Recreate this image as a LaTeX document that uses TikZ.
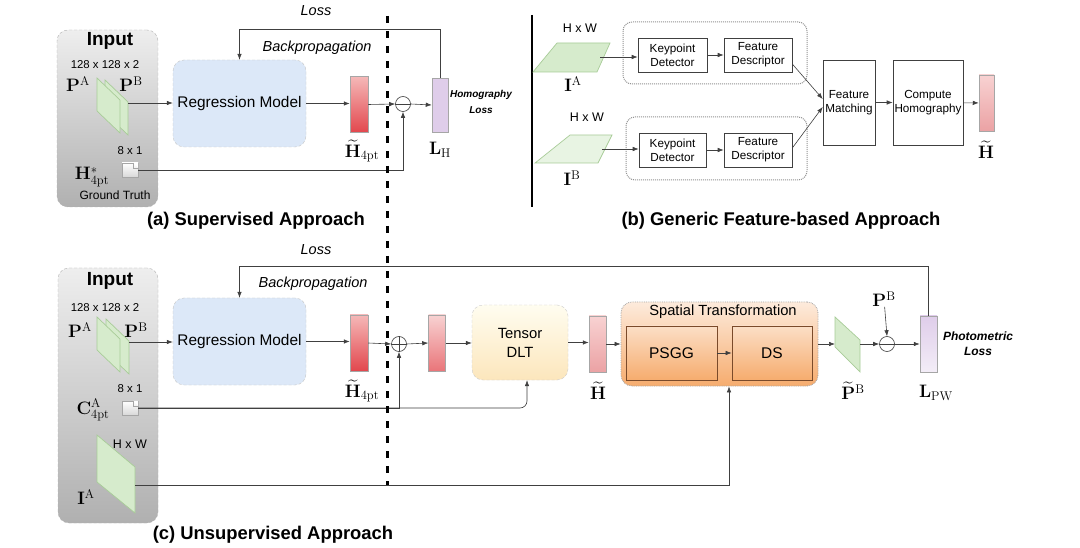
\RequirePackage{fix-cm}
\documentclass[tikz,border=0pt]{standalone}
\usepackage{amsmath}
\usepackage[no-math]{fontspec}
\setmainfont{Liberation Sans}
\usetikzlibrary{arrows.meta}

\definecolor{ingray}{HTML}{EEEEEE}
\definecolor{ingrayd}{HTML}{B0B0B0}
\definecolor{regblue}{HTML}{DCE8F8}
\definecolor{sheetgreen}{HTML}{D6EBCC}
\definecolor{sheetedge}{HTML}{A8CC98}
\definecolor{redtop}{HTML}{F5B8B8}
\definecolor{redbot}{HTML}{E2474D}
\definecolor{pinktop}{HTML}{F8D2D2}
\definecolor{pinkbot}{HTML}{EBA2A4}
\definecolor{lavtop}{HTML}{DFCDEA}
\definecolor{lavbot}{HTML}{F3EDF7}
\definecolor{yeltop}{HTML}{FFFDF0}
\definecolor{yelbot}{HTML}{FCE6BC}
\definecolor{orgtop}{HTML}{FDEBDC}
\definecolor{orgbot}{HTML}{F6AC6E}
\definecolor{brownedge}{HTML}{7A4A2A}

\tikzset{
  arr/.style={-{Latex[length=6pt,width=4.5pt]}, black!75, line width=0.6pt},
  ln/.style={black!75, line width=0.6pt},
  lbl/.style={font=\fontsize{11.4}{13}\selectfont, inner sep=0pt},
  hw/.style={font=\fontsize{12.5}{14}\selectfont, inner sep=0pt},
  mlbl/.style={font=\fontsize{18}{20}\selectfont, inner sep=0pt},
  captxt/.style={font=\bfseries\fontsize{18.4}{21}\selectfont, inner sep=0pt},
  intitle/.style={font=\bfseries\fontsize{19}{22}\selectfont, inner sep=0pt},
  inbox/.style={draw=gray!60, densely dashed, rounded corners=11pt, top color=ingray, bottom color=ingrayd},
  regbox/.style={draw=gray!45, densely dashed, rounded corners=11pt, fill=regblue,
    font=\fontsize{15.4}{18}\selectfont, minimum width=133pt, minimum height=87pt},
  bar/.style={draw=gray!70, line width=0.5pt, minimum width=17pt, minimum height=56pt, inner sep=0pt},
  sheet/.style={fill=sheetgreen, draw=sheetedge, line width=0.7pt},
  opc/.style={circle, draw=black!75, line width=0.6pt, minimum size=15pt, inner sep=0pt, fill=white},
  doc/.style={draw=gray!70, top color=white, bottom color=gray!30, minimum width=16pt, minimum height=14pt, inner sep=0pt},
  blk/.style={draw=black!75, line width=0.6pt, align=center, font=\fontsize{11.7}{14}\selectfont, inner sep=0pt},
  grp/.style={draw=gray!85, densely dotted, line width=1pt, rounded corners=9pt},
  bp/.style={font=\itshape\fontsize{14.5}{17}\selectfont, inner sep=0pt},
  lossnote/.style={font=\bfseries\itshape\fontsize{10}{16}\selectfont, align=center, inner sep=0pt},
  tdltbox/.style={draw=gray!40, densely dashed, rounded corners=11pt, top color=yeltop, bottom color=yelbot,
    align=center, font=\fontsize{14.8}{19}\selectfont, minimum width=96pt, minimum height=75pt},
  stbox/.style={draw=gray!70, densely dotted, line width=0.8pt, rounded corners=11pt, top color=orgtop, bottom color=orgbot,
    minimum width=197pt, minimum height=84pt},
  opblk/.style={draw=brownedge, line width=0.8pt, top color=orgtop!80!orgbot, bottom color=orgbot,
    font=\fontsize{15.5}{18}\selectfont, minimum height=54pt, inner sep=0pt},
}

\begin{document}
\begin{tikzpicture}[x=1pt,y=-1pt]
    \useasboundingbox[fill=white] (0,0) rectangle (1080,548);

    % ---------------- (a) Supervised approach ----------------
    % Input panel
    \node[inbox, minimum width=101pt, minimum height=177pt] (inA) at (107.5,118.5) {};
    \node[intitle] (inAt) at (110,41) {Input};
    \node[lbl] (szA) at (105,65) {128 x 128 x 2};
    \node[mlbl] (paA) at (78,84) {$\mathbf{P}^{\mathrm{A}}$};
    \node[mlbl] (pbA) at (131,84) {$\mathbf{P}^{\mathrm{B}}$};
    \filldraw[sheet] (105,80) -- ++(23,22) -- ++(0,33) -- ++(-23,-22) -- cycle;
    \filldraw[sheet] (97,78) -- ++(23,22) -- ++(0,33) -- ++(-23,-22) -- cycle;
    \coordinate (pA) at (128,103);
    \node[lbl] (gsA) at (130,151) {8 x 1};
    \node[mlbl] (hsA) at (92,177) {$\mathbf{H}^{*}_{\mathrm{4pt}}$};
    \node[doc] (gtA) at (130,170) {};
    \fill[white] ([xshift=-5pt]gtA.north east) -- (gtA.north east) -- ([yshift=-5pt]gtA.north east) -- cycle;
    \draw[gray!70] ([xshift=-5pt]gtA.north east) |- ([yshift=-5pt]gtA.north east);
    \node[lbl, font=\fontsize{12}{14}\selectfont] (gtlA) at (115,195) {Ground Truth};

    % Network and loss
    \node[regbox] (regA) at (239.5,103.5) {Regression Model};
    \node[bar, minimum width=18pt, top color=redtop, bottom color=redbot] (hA) at (359,104.5) {};
    \node[mlbl] (hAl) at (362,151) {$\widetilde{\mathbf{H}}_{\mathrm{4pt}}$};
    \node[opc] (subA) at (403,104) {};
    \node[bar, minimum width=16pt, minimum height=54pt, fill=lavtop] (lhA) at (440,105) {};
    \node[mlbl] (lhAl) at (440,150) {$\mathbf{L}_{\mathrm{H}}$};
    \node[lossnote] (hlA) at (481,102) {Homography\\Loss};
    \node[bp] (lossA) at (316,11) {Loss};
    \node[bp] (bpA) at (317,48) {Backpropagation};

    \draw[arr] (pA) -- (pA -| regA.west);
    \draw[arr] (regA.east) -- (regA.east -| hA.west);
    \draw[arr] (hA.east) -- (subA.west);
    \draw[ln] (subA.west) -- (subA.east);
    \draw[arr] (subA.east) -- (lhA.west);
    \draw[arr] (gtA.east) -| (subA.south);
    \draw[arr] (lhA.north) -- ++(0,-48) -| (regA.north);

    \node[captxt] (capA) at (256,221) {(a) Supervised Approach};

    % ---------------- (b) Feature-based approach ----------------
    \draw[line width=2pt] (532,15) -- (532,207);
    \node[grp, minimum width=184pt, minimum height=62pt] (grpA) at (715,53) {};
    \node[grp, minimum width=181pt, minimum height=63pt] (grpB) at (716.5,148.5) {};

    \node[hw] (hwA) at (580,28) {H x W};
    \filldraw[sheet] (557,43) -- (610,43) -- (597,72) -- (533,72) -- cycle;
    \coordinate (iA) at (600,57);
    \node[mlbl] (iAl) at (573,84) {$\mathbf{I}^{\mathrm{A}}$};
    \node[hw] (hwB) at (587,117) {H x W};
    \filldraw[sheet, fill=sheetgreen!55] (570,135) -- (612,135) -- (598,163) -- (535,163) -- cycle;
    \coordinate (iB) at (602,149);
    \node[mlbl] (iBl) at (572,178) {$\mathbf{I}^{\mathrm{B}}$};

    \node[blk, minimum width=69pt, minimum height=34pt] (kdA) at (672.5,55) {Keypoint\\Detector};
    \node[blk, minimum width=68pt, minimum height=34pt] (fdA) at (758,55) {Feature\\Descriptor};
    \node[blk, minimum width=67pt, minimum height=34pt] (kdB) at (672.5,150) {Keypoint\\Detector};
    \node[blk, minimum width=68pt, minimum height=34pt] (fdB) at (758,150) {Feature\\Descriptor};
    \node[blk, minimum width=52pt, minimum height=85pt] (fm) at (849,102.5) {Feature\\Matching};
    \node[blk, minimum width=70pt, minimum height=85pt] (ch) at (928,102.5) {Compute\\Homography};
    \node[bar, minimum width=15pt, top color=pinktop, bottom color=pinkbot] (hB) at (986.5,103) {};
    \node[mlbl] (hBl) at (986,150) {$\widetilde{\mathbf{H}}$};

    \draw[arr] (iA) -- (iA -| kdA.west);
    \draw[arr] (kdA) -- (fdA);
    \draw[arr] (iB) -- (iB -| kdB.west);
    \draw[arr] (kdB) -- (fdB);
    \draw[arr] ([yshift=-9pt]fdA.east) -- ([yshift=3.5pt]fm.west);
    \draw[arr] ([yshift=2pt]fdB.east) -- ([yshift=-4.5pt]fm.west);
    \draw[arr] (fm) -- (ch);
    \draw[arr] (ch) -- (hB);

    \node[captxt] (capB) at (781,221) {(b) Generic Feature-based Approach};

    % ---------------- (c) Unsupervised approach ----------------
    % Input panel
    \node[inbox, minimum width=100pt, minimum height=255pt] (inC) at (108,395.5) {};
    \node[intitle] (inCt) at (110,281) {Input};
    \node[lbl] (szC) at (105,308) {128 x 128 x 2};
    \node[mlbl] (paC) at (80,330) {$\mathbf{P}^{\mathrm{A}}$};
    \node[mlbl] (pbC) at (136,330) {$\mathbf{P}^{\mathrm{B}}$};
    \filldraw[sheet] (106,319) -- ++(23,22) -- ++(0,33) -- ++(-23,-22) -- cycle;
    \filldraw[sheet] (97,317) -- ++(23,22) -- ++(0,33) -- ++(-23,-22) -- cycle;
    \coordinate (pC) at (129,342);
    \node[lbl] (gsC) at (130,389) {8 x 1};
    \node[mlbl] (caC) at (93,410) {$\mathbf{C}^{\mathrm{A}}_{\mathrm{4pt}}$};
    \node[doc] (c4) at (130,408) {};
    \fill[white] ([xshift=-5pt]c4.north east) -- (c4.north east) -- ([yshift=-5pt]c4.north east) -- cycle;
    \draw[gray!70] ([xshift=-5pt]c4.north east) |- ([yshift=-5pt]c4.north east);
    \filldraw[sheet] (97,435) -- (135,467) -- (135,513) -- (97,482) -- cycle;
    \node[hw] (hwC) at (130,444) {H x W};
    \coordinate (iC) at (135,485);
    \node[mlbl] (iCl) at (86,497) {$\mathbf{I}^{\mathrm{A}}$};

    % Network, DLT and warping
    \node[regbox] (regC) at (239.5,341.5) {Regression Model};
    \node[bar, minimum width=18pt, top color=redtop, bottom color=redbot] (hC) at (359,343) {};
    \node[mlbl] (hCl) at (362,391) {$\widetilde{\mathbf{H}}_{\mathrm{4pt}}$};
    \node[opc] (addC) at (399,344) {};
    \node[bar, top color=pinktop, bottom color=redbot!75!white] (h2C) at (437,343) {};
    \node[tdltbox] (tdlt) at (520,342.5) {Tensor\\DLT};
    \node[bar, top color=pinktop, bottom color=pinkbot] (hhC) at (597.5,344) {};
    \node[mlbl] (hhCl) at (598,391) {$\widetilde{\mathbf{H}}$};
    \node[stbox] (st) at (719.5,344) {};
    \node[font=\fontsize{14.7}{17}\selectfont, inner sep=0pt] (stt) at (723,312) {Spatial Transformation};
    \node[opblk, minimum width=91pt] (psgg) at (671.5,353) {PSGG};
    \node[opblk, minimum width=80pt] (ds) at (772,353) {DS};
    \filldraw[sheet] (835,317) -- (860,340) -- (860,372) -- (835,347) -- cycle;
    \coordinate (pwIn) at (835,344);
    \coordinate (pwOut) at (860,344);
    \node[mlbl] (pwl) at (853,391) {$\widetilde{\mathbf{P}}^{\mathrm{B}}$};
    \node[opc] (subC) at (887,344) {};
    \node[mlbl] (pbt) at (884,299) {$\mathbf{P}^{\mathrm{B}}$};
    \node[bar, top color=lavtop, bottom color=lavbot] (lpw) at (928.5,344) {};
    \node[mlbl] (lpwl) at (936,393) {$\mathbf{L}_{\mathrm{PW}}$};
    \node[lossnote, font=\bfseries\itshape\fontsize{12}{15}\selectfont] (plC) at (978,344) {Photometric\\Loss};
    \node[bp] (lossC) at (316,250) {Loss};
    \node[bp] (bpC) at (313,284) {Backpropagation};

    \draw[arr] (pC) -- (pC -| regC.west);
    \draw[arr] (regC.east) -- (regC.east -| hC.west);
    \draw[arr] (hC.east) -- (addC.west);
    \draw[ln] (addC.west) -- (addC.east) (addC.north) -- (addC.south);
    \draw[arr] (addC.east) -- (h2C.west);
    \draw[arr] (h2C.east) -- (h2C.east -| tdlt.west);
    \draw[arr] (c4.east) -| (addC.south);
    \draw[arr, rounded corners=7pt] (c4.east) -| ([xshift=7pt]tdlt.south);
    \draw[arr] (tdlt.east) -- (tdlt.east -| hhC.west);
    \draw[arr] (hhC.east) -- (hhC.east -| st.west);
    \draw[arr] (psgg) -- (ds);
    \draw[arr] (iC) -| ([xshift=9.5pt]st.south);
    \draw[arr] (st.east) -- (pwIn);
    \draw[arr] (pwOut) -- (subC.west);
    \draw[ln] (subC.west) -- (subC.east);
    \draw[arr] (pbt) -- (subC.north);
    \draw[arr] (subC.east) -- (lpw.west);
    \draw[arr] (lpw.north) -- ++(0,-49) -| (regC.north);

    \node[captxt] (capC) at (273,535) {(c) Unsupervised Approach};

    % Divider between supervised and unsupervised parts
    \draw[line width=3pt, dash pattern=on 7pt off 8pt] (387,16) -- (387,485);
\end{tikzpicture}
\end{document}
